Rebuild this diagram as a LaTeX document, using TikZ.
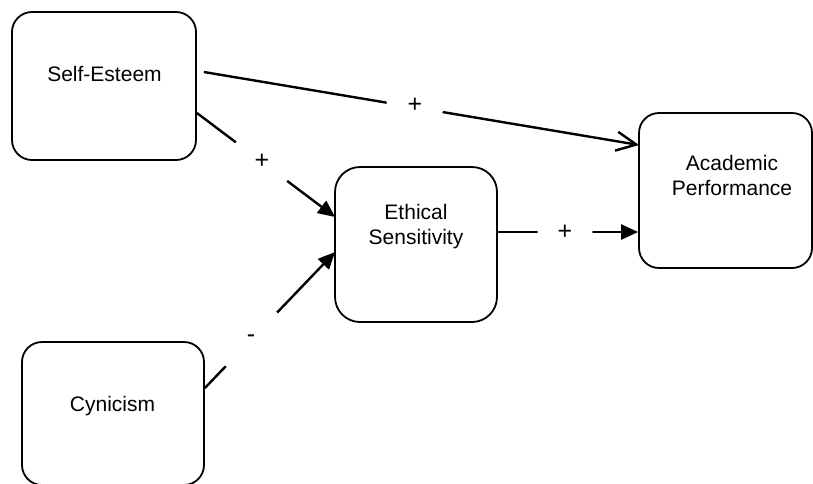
\documentclass[tikz,border=0pt]{standalone}
\usepackage{fontspec}
\setmainfont{Liberation Sans}
\usetikzlibrary{arrows.meta}
\begin{document}
\begin{tikzpicture}[x=1pt,y=-1pt,
  box/.style={draw,line width=1.8pt,rounded corners=20pt,inner sep=0pt},
  txt/.style={font=\fontsize{21}{25}\selectfont,align=center,inner sep=0pt},
  conn/.style={line width=2.4pt},
  filledarrow/.style={conn,-{Triangle[length=17pt,width=15pt]}},
  openarrow/.style={conn,-{Straight Barb[length=20pt,width=19pt]}},
  gap/.style={circle,fill=white,inner sep=0pt,font=\fontsize{25}{28}\selectfont}
]
\useasboundingbox (0,0) rectangle (813,483);
% boxes
\node[box,minimum width=184pt,minimum height=148pt] (se) at (104,86) {};
\node[box,minimum width=182pt,minimum height=143pt] (cy) at (113,413.5) {};
\node[box,minimum width=162pt,minimum height=155pt,rounded corners=25pt] (es) at (416,244.5) {};
\node[box,minimum width=173pt,minimum height=155pt] (ap) at (725.5,190.5) {};
% texts
\node[txt,anchor=base] (set) at (104.5,81) {Self-Esteem};
\node[txt,anchor=base] (cyt) at (112.5,411) {Cynicism};
\node[txt] (est) at (416,227) {Ethical\\Sensitivity};
\node[txt] (apt) at (732,175.5) {Academic\\Performance};
% connectors
\draw[openarrow] ([shift={(7,-14)}]se.east) -- ([shift={(1,-45.5)}]ap.west);
\draw[filledarrow] ([shift={(0,27)}]se.east) -- ([shift={(1,-27.5)}]es.west);
\draw[filledarrow] ([shift={(0,-25.5)}]cy.east) -- ([shift={(1,7.5)}]es.west);
\draw[filledarrow] ([shift={(0,-12.5)}]es.east) -- ([shift={(0,41.5)}]ap.west);
% labels with gaps
\node[gap,minimum size=57pt] (l1) at (415,105) {+};
\node[gap,minimum size=64pt] (l2) at (262,161) {+};
\node[gap,minimum size=74pt] (l3) at (251,339) {-};
\node[gap,minimum size=55pt] (l4) at (565,232) {+};
\end{tikzpicture}
\end{document}
